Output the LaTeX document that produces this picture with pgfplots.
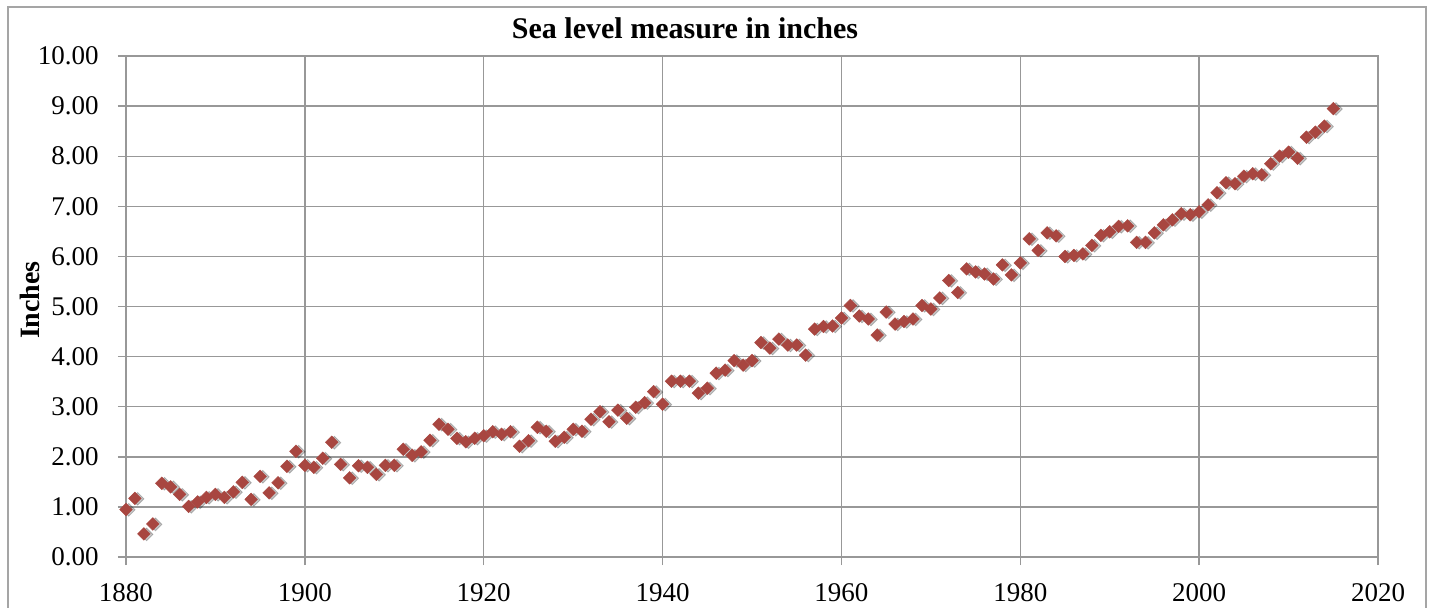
\documentclass[border=0pt]{standalone}
\usepackage{pgfplots}
\pgfplotsset{compat=1.18}
\usepackage{pgfplotstable}
\usepackage{fontspec}
\setmainfont{Liberation Serif}
\definecolor{mk}{RGB}{168,70,64}
\definecolor{gridc}{RGB}{152,152,152}
\definecolor{framec}{RGB}{165,165,165}
\pgfplotstableread{
year inches
1880 0.95
1881 1.17
1882 0.46
1883 0.66
1884 1.47
1885 1.40
1886 1.25
1887 1.01
1888 1.10
1889 1.19
1890 1.25
1891 1.19
1892 1.30
1893 1.49
1894 1.15
1895 1.61
1896 1.28
1897 1.48
1898 1.81
1899 2.11
1900 1.83
1901 1.79
1902 1.97
1903 2.29
1904 1.85
1905 1.58
1906 1.82
1907 1.79
1908 1.65
1909 1.83
1910 1.83
1911 2.15
1912 2.03
1913 2.10
1914 2.33
1915 2.65
1916 2.55
1917 2.37
1918 2.30
1919 2.37
1920 2.42
1921 2.50
1922 2.45
1923 2.50
1924 2.21
1925 2.32
1926 2.59
1927 2.51
1928 2.31
1929 2.39
1930 2.55
1931 2.51
1932 2.75
1933 2.90
1934 2.70
1935 2.93
1936 2.77
1937 2.99
1938 3.08
1939 3.30
1940 3.05
1941 3.51
1942 3.51
1943 3.51
1944 3.27
1945 3.37
1946 3.67
1947 3.73
1948 3.92
1949 3.83
1950 3.92
1951 4.28
1952 4.17
1953 4.35
1954 4.23
1955 4.23
1956 4.03
1957 4.55
1958 4.60
1959 4.61
1960 4.77
1961 5.02
1962 4.81
1963 4.75
1964 4.43
1965 4.89
1966 4.65
1967 4.70
1968 4.75
1969 5.02
1970 4.95
1971 5.17
1972 5.52
1973 5.28
1974 5.75
1975 5.69
1976 5.65
1977 5.55
1978 5.83
1979 5.63
1980 5.87
1981 6.35
1982 6.12
1983 6.47
1984 6.41
1985 6.00
1986 6.02
1987 6.05
1988 6.22
1989 6.42
1990 6.49
1991 6.60
1992 6.61
1993 6.28
1994 6.28
1995 6.47
1996 6.63
1997 6.73
1998 6.85
1999 6.83
2000 6.89
2001 7.03
2002 7.27
2003 7.47
2004 7.45
2005 7.60
2006 7.65
2007 7.63
2008 7.85
2009 8.00
2010 8.08
2011 7.96
2012 8.38
2013 8.48
2014 8.60
2015 8.95
}\sealevel
\begin{document}
\fontsize{13}{15}\selectfont
\begin{tikzpicture}[x=1pt,y=1pt]
\useasboundingbox (0,0) rectangle (716.5,303.5);
\draw[framec, line width=0.9pt] (4,-2) -- (4,300) -- (713,300) -- (713,-2);
\begin{axis}[
  at={(63pt,25pt)}, anchor=south west,
  scale only axis, width=626pt, height=250.5pt,
  xmin=1880, xmax=2020, ymin=0, ymax=10,
  xtick={1880,1900,...,2020}, ytick={0,1,...,10},
  grid=major,
  major grid style={gridc, line width=0.7pt},
  axis line style={gridc, line width=0.7pt},
  tick style={gridc, line width=0.7pt},
  tick align=outside, major tick length=4pt,
  xtick pos=bottom, ytick pos=left,
  /pgf/number format/assume math mode=true,
  /pgf/number format/1000 sep={},
  ticklabel style={font=\fontsize{13.5}{15}\selectfont, text=black},
  yticklabel style={/pgf/number format/fixed, /pgf/number format/fixed zerofill, /pgf/number format/precision=2, inner sep=0pt, xshift=-9.5pt},
  xticklabel style={inner sep=0pt, yshift=-9pt},
  clip=false,
]
\addplot[only marks, mark=square*, mark size=2.25pt,
  mark options={rotate=45, xshift=0.8pt, yshift=-1.1pt, fill=black, draw=none, opacity=0.22}]
  table[x=year, y=inches] {\sealevel};
\addplot[only marks, mark=square*, mark size=2.25pt,
  mark options={rotate=45, fill=mk, draw=mk, line width=0.2pt}]
  table[x=year, y=inches] {\sealevel};
\end{axis}
\node[font=\bfseries\fontsize{15}{17}\selectfont, anchor=base] at (342.5,284) {Sea level measure in inches};
\node[font=\bfseries\fontsize{14}{16}\selectfont, rotate=90] at (15,153.5) {Inches};
\end{tikzpicture}
\end{document}
